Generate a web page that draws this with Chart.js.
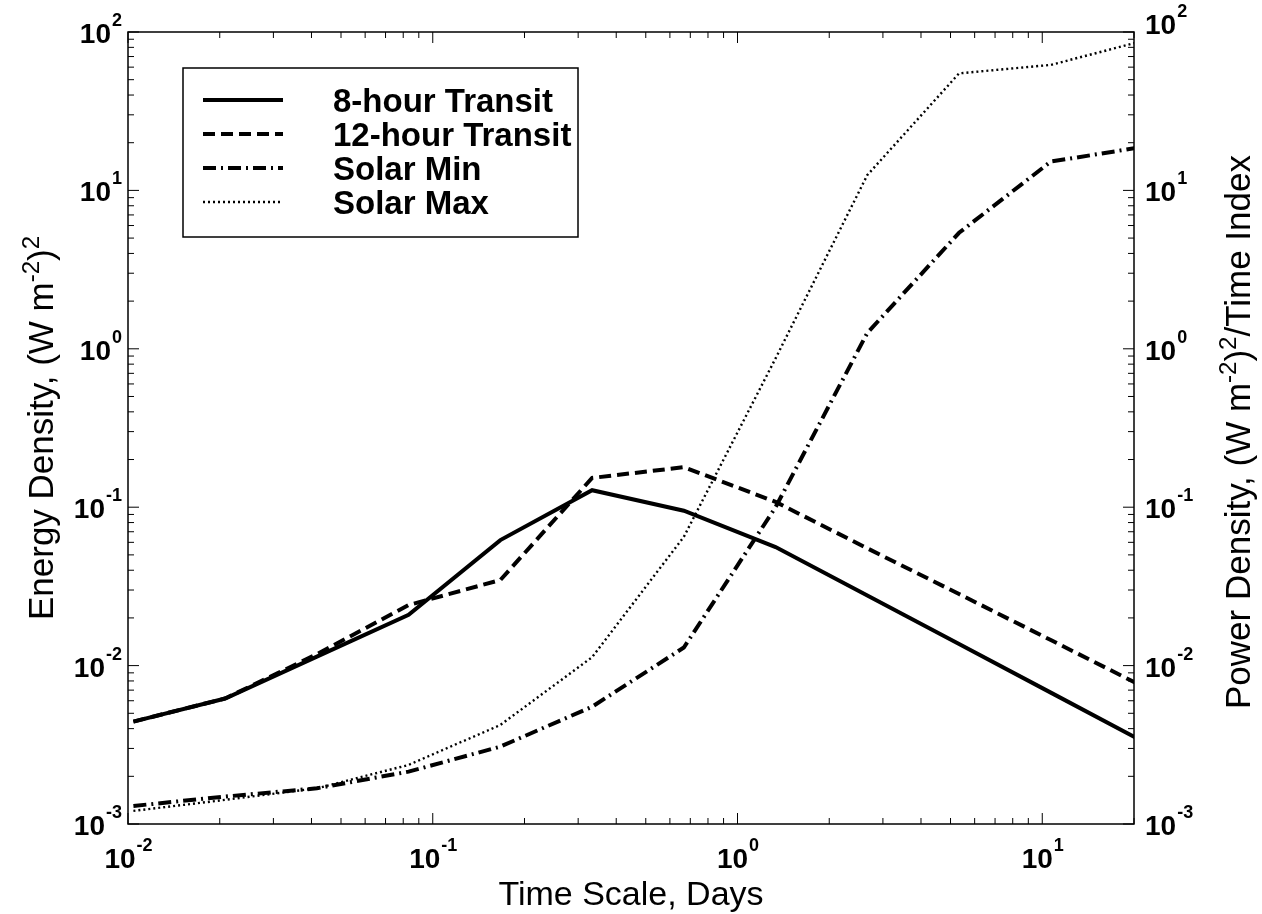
<!DOCTYPE html>
<html>
<head>
<meta charset="utf-8">
<script src="https://cdn.jsdelivr.net/npm/chart.js@4.4.1/dist/chart.umd.min.js"></script>
<style>
  html, body { margin: 0; padding: 0; background: #fff; }
  #wrap { width: 1262px; height: 914px; }
</style>
</head>
<body>
<div id="wrap"><canvas id="chart" width="1262" height="914"></canvas></div>
<script>
// time scale in days (doubling from 15 minutes)
const days = [1/96, 1/48, 1/24, 1/12, 1/6, 1/3, 2/3, 4/3, 8/3, 16/3, 32/3, 64/3];

// values
const transit8h  = [0.00443, 0.0062, 0.0114, 0.0209, 0.062, 0.128, 0.095, 0.056, 0.0277, 0.0137, 0.00675, 0.00333];
const transit12h = [0.00443, 0.0062, 0.0118, 0.0241, 0.0347, 0.153, 0.179, 0.108, 0.055, 0.0283, 0.0145, 0.0074];
const solarMin   = [0.0013, 0.00149, 0.00168, 0.00214, 0.00308, 0.0055, 0.013, 0.1, 1.26, 5.4, 15.2, 18.8];
const solarMax   = [0.00121, 0.00142, 0.00168, 0.00236, 0.00422, 0.0113, 0.065, 0.87, 12.5, 54.8, 62, 87.7];

const seriesNames = ["8-hour Transit", "12-hour Transit", "Solar Min", "Solar Max"];
const xDecades = [-2, -1, 0, 1];
const yDecades = [-3, -2, -1, 0, 1, 2];

const FONT = "'Liberation Sans', Arial, Helvetica, sans-serif";

// line styles per series
const styles = [
  { width: 4, dash: [] },
  { width: 4, dash: [12, 6] },
  { width: 4, dash: [13, 5, 2, 5] },
  { width: 2.4, dash: [2, 3] },
];

function toPoints(vals) {
  return days.map((d, i) => ({ x: d, y: vals[i] }));
}

const allSeries = [transit8h, transit12h, solarMin, solarMax];

// draws "10" with a raised exponent
function drawPow(ctx, exp, x, y, align) {
  ctx.font = "bold 28px " + FONT;
  const w10 = ctx.measureText("10").width;
  ctx.font = "bold 18px " + FONT;
  const sup = String(exp);
  const wExp = ctx.measureText(sup).width;
  let start;
  if (align === "center") start = x - (w10 + wExp) / 2;
  else if (align === "right") start = x - (w10 + wExp);
  else start = x;
  ctx.textAlign = "left";
  ctx.textBaseline = "alphabetic";
  ctx.font = "bold 28px " + FONT;
  ctx.fillText("10", start, y);
  ctx.font = "bold 18px " + FONT;
  ctx.fillText(sup, start + w10 + 1, y - 17);
}

// text with superscript parts, centred on x
function drawRich(ctx, parts, x, y) {
  const big = "35px " + FONT, small = "24px " + FONT;
  let total = 0;
  parts.forEach((p) => {
    ctx.font = p.sup ? small : big;
    total += ctx.measureText(p.t).width;
  });
  let cx = x - total / 2;
  ctx.textAlign = "left";
  ctx.textBaseline = "alphabetic";
  parts.forEach((p) => {
    ctx.font = p.sup ? small : big;
    ctx.fillText(p.t, cx, p.sup ? y - 14 : y);
    cx += ctx.measureText(p.t).width;
  });
}

const framePlugin = {
  id: "frame",
  beforeDraw(chart) {
    const ctx = chart.ctx;
    ctx.save();
    ctx.fillStyle = "#fff";
    ctx.fillRect(0, 0, chart.width, chart.height);
    ctx.restore();
  },
  afterDraw(chart) {
    const ctx = chart.ctx;
    const a = chart.chartArea;
    const xs = chart.scales.x, ys = chart.scales.y, ys2 = chart.scales.y2;
    ctx.save();
    ctx.strokeStyle = "#000";
    ctx.fillStyle = "#000";
    ctx.lineWidth = 1.5;
    ctx.setLineDash([]);
    ctx.strokeRect(a.left, a.top, a.right - a.left, a.bottom - a.top);

    // tick marks, pointing inward on all four sides
    ctx.lineWidth = 1;
    ctx.beginPath();
    for (let k = -3; k <= 2; k++) {
      for (let m = 1; m <= 9; m++) {
        const v = m * Math.pow(10, k);
        const len = m === 1 ? 11 : 6;
        if (v >= xs.min && v <= xs.max) {
          const px = xs.getPixelForValue(v);
          ctx.moveTo(px, a.bottom); ctx.lineTo(px, a.bottom - len);
          ctx.moveTo(px, a.top); ctx.lineTo(px, a.top + len);
        }
        if (v >= ys.min && v <= ys.max) {
          const py = ys.getPixelForValue(v);
          ctx.moveTo(a.left, py); ctx.lineTo(a.left + len, py);
          const py2 = ys2.getPixelForValue(v);
          ctx.moveTo(a.right, py2); ctx.lineTo(a.right - len, py2);
        }
      }
    }
    ctx.stroke();

    // tick labels
    xDecades.forEach((k) => {
      drawPow(ctx, k, xs.getPixelForValue(Math.pow(10, k)), a.bottom + 44, "center");
    });
    yDecades.forEach((k) => {
      drawPow(ctx, k, a.left - 7, ys.getPixelForValue(Math.pow(10, k)) + 11, "right");
      const lift = k === 2 ? 9 : 0;
      drawPow(ctx, k, a.right + 11, ys2.getPixelForValue(Math.pow(10, k)) + 11 - lift, "left");
    });

    // axis titles
    ctx.font = "34px " + FONT;
    ctx.textAlign = "center";
    ctx.textBaseline = "alphabetic";
    ctx.fillText("Time Scale, Days", (a.left + a.right) / 2, 905);

    const midY = (a.top + a.bottom) / 2;
    ctx.save();
    ctx.translate(53, midY);
    ctx.rotate(-Math.PI / 2);
    drawRich(ctx, [
      { t: "Energy Density, (W m" }, { t: "-2", sup: true }, { t: ")" }, { t: "2", sup: true },
    ], 0, 0);
    ctx.restore();

    ctx.save();
    ctx.translate(1250, midY + 4);
    ctx.rotate(-Math.PI / 2);
    drawRich(ctx, [
      { t: "Power Density, (W m" }, { t: "-2", sup: true }, { t: ")" }, { t: "2", sup: true }, { t: "/Time Index" },
    ], 0, 0);
    ctx.restore();

    // legend box
    ctx.lineWidth = 1.5;
    ctx.strokeRect(183, 68, 395, 169);
    seriesNames.forEach((name, i) => {
      const ly = 100 + i * 34;
      ctx.lineWidth = styles[i].width;
      ctx.setLineDash(styles[i].dash);
      ctx.beginPath();
      ctx.moveTo(203, ly);
      ctx.lineTo(283, ly);
      ctx.stroke();
      ctx.setLineDash([]);
      ctx.font = "bold 33px " + FONT;
      ctx.textAlign = "left";
      ctx.fillText(name, 333, ly + 12);
    });
    ctx.restore();
  },
};

const hiddenAxis = {
  type: "logarithmic",
  grid: { display: false, drawTicks: false },
  ticks: { display: false },
  border: { display: false },
};

new Chart(document.getElementById("chart"), {
  type: "line",
  data: {
    datasets: allSeries.map((vals, i) => ({
      label: seriesNames[i],
      data: toPoints(vals),
      borderColor: "#000",
      borderWidth: styles[i].width,
      borderDash: styles[i].dash,
      pointRadius: 0,
      tension: 0,
      fill: false,
      yAxisID: "y",
    })),
  },
  options: {
    responsive: false,
    animation: false,
    layout: { padding: { left: 128, right: 128, top: 32, bottom: 90 } },
    plugins: { legend: { display: false }, tooltip: { enabled: false } },
    scales: {
      x: { ...hiddenAxis, position: "bottom", min: 0.01, max: 20 },
      y: { ...hiddenAxis, position: "left", min: 0.001, max: 100 },
      y2: { ...hiddenAxis, position: "right", min: 0.001, max: 100 },
    },
  },
  plugins: [framePlugin],
});
</script>
</body>
</html>
